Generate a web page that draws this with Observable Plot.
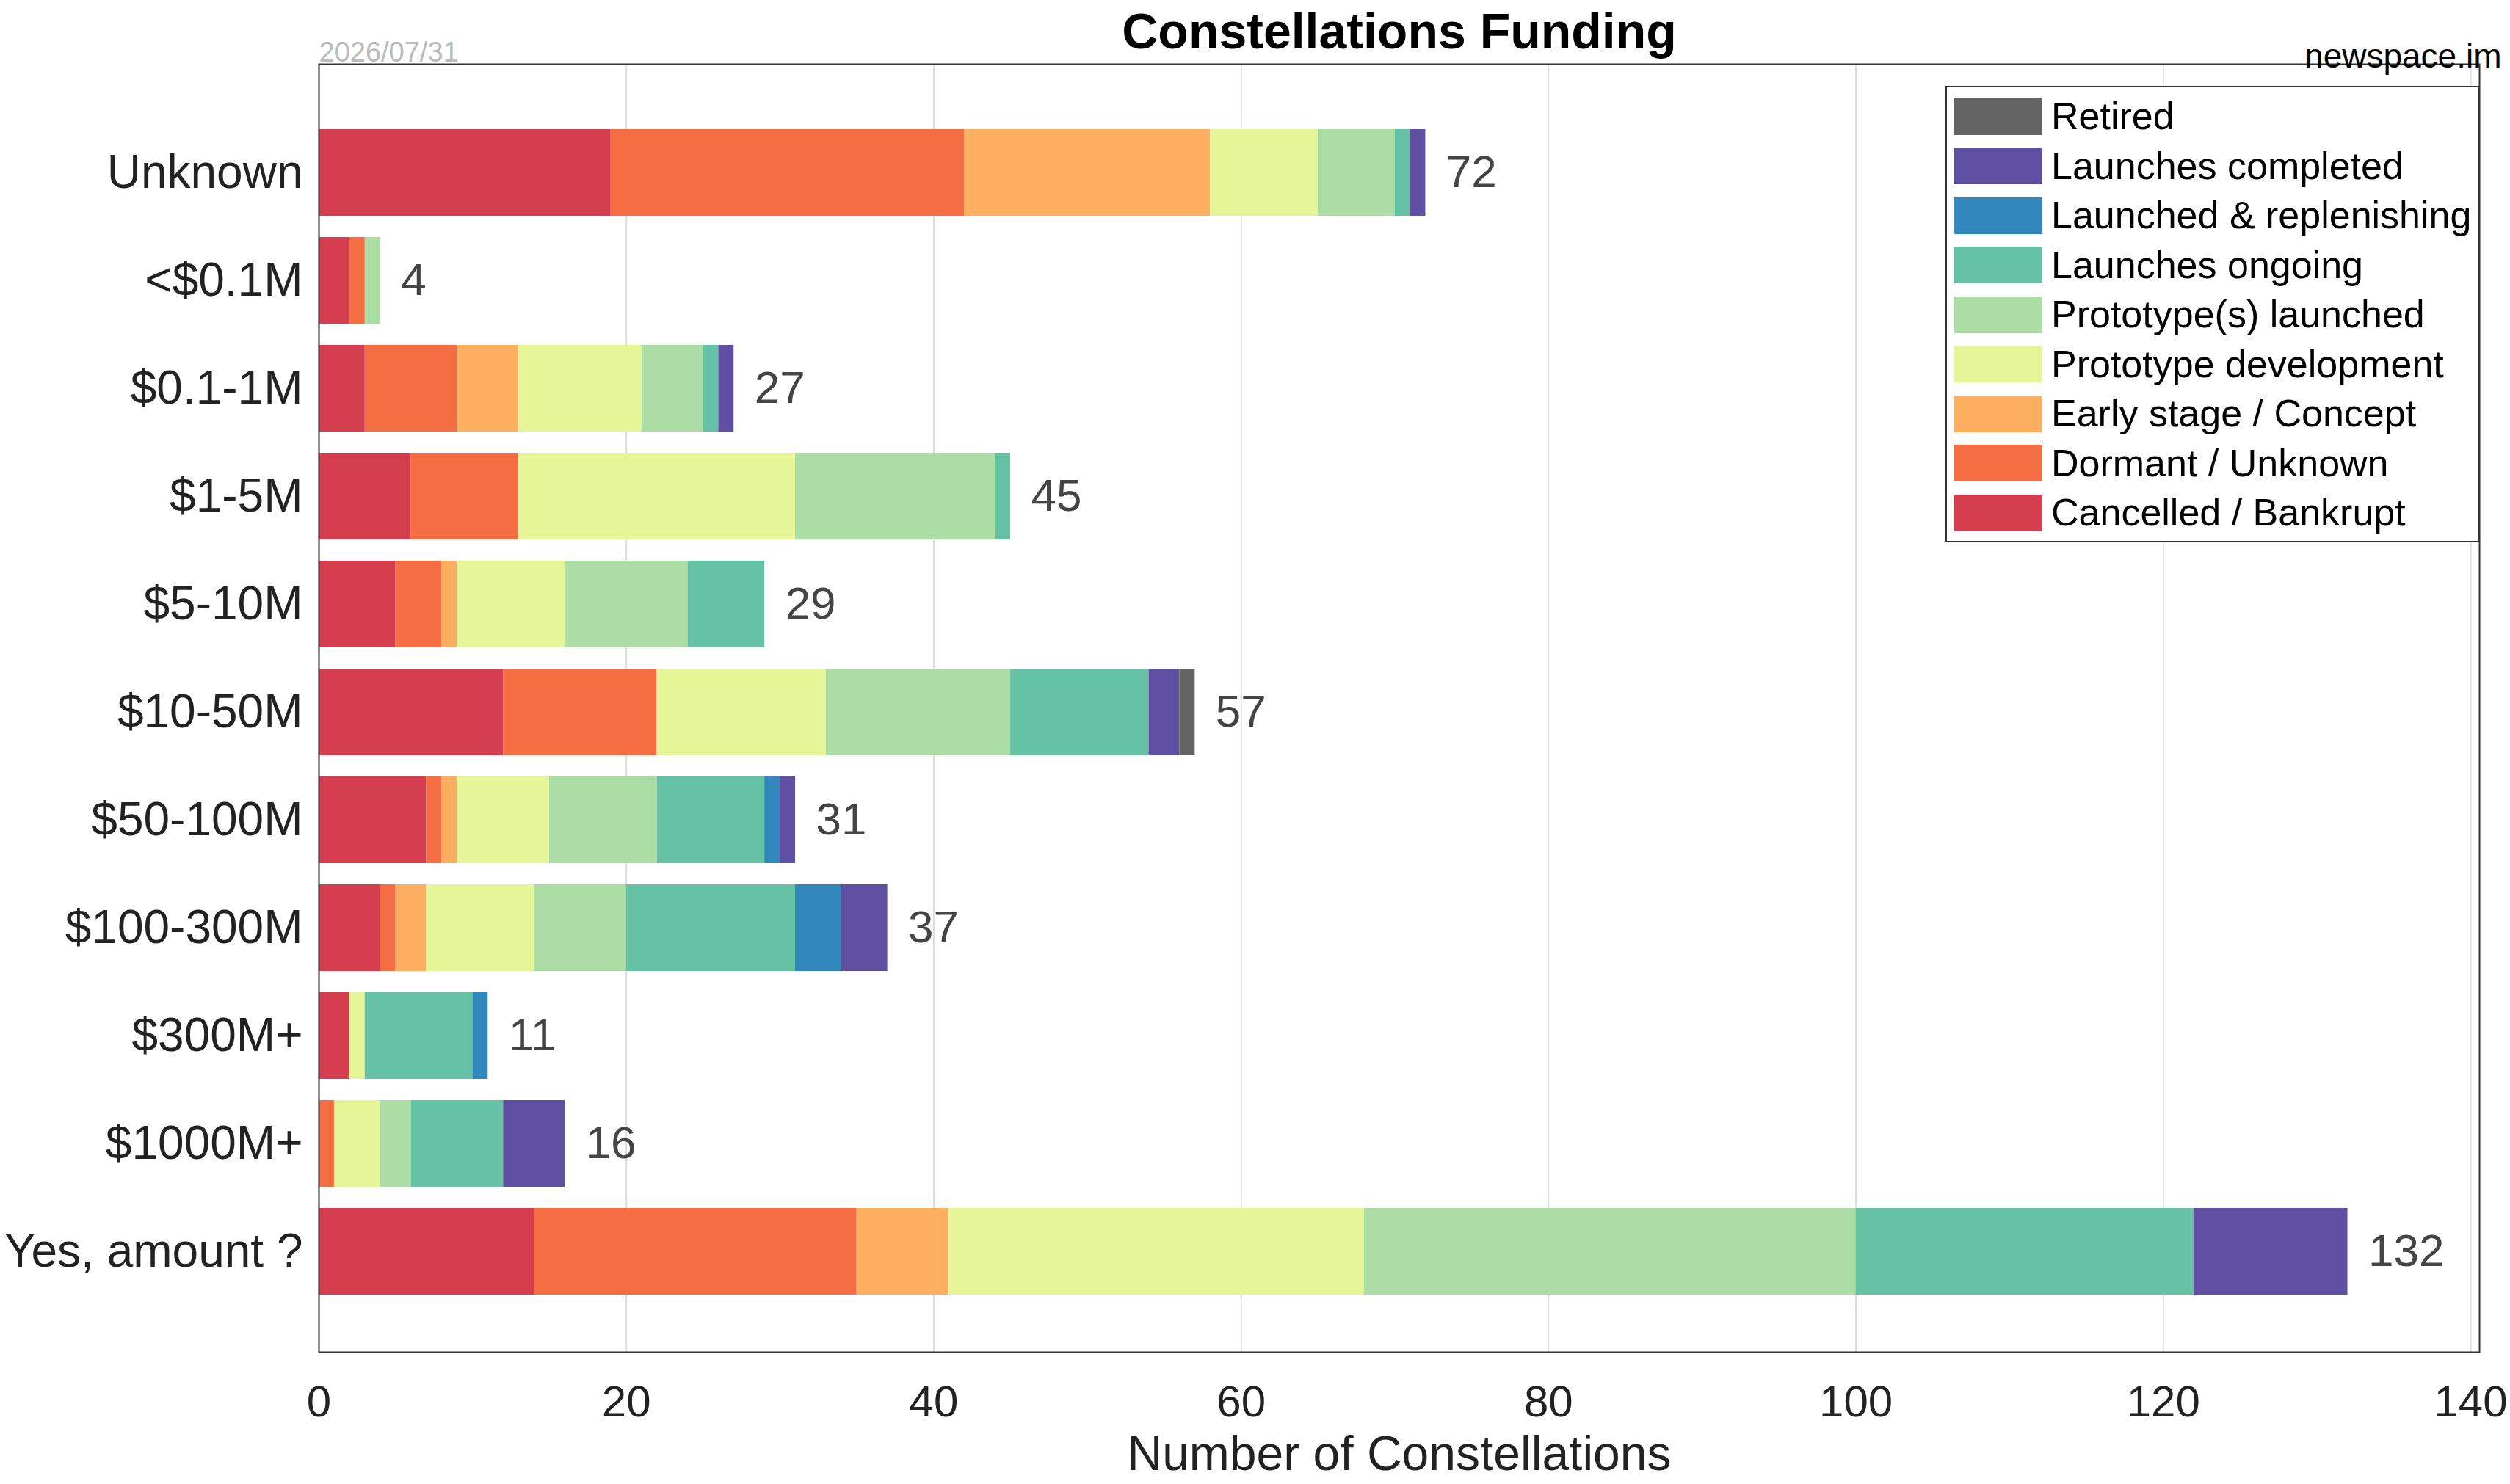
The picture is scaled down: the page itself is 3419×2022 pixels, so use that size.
<!DOCTYPE html>
<html><head><meta charset="utf-8">
<script src="https://cdn.jsdelivr.net/npm/d3@7"></script>
<script src="https://cdn.jsdelivr.net/npm/@observablehq/plot@0.6"></script>
<style>
body{margin:0;background:#fff;font-family:"Liberation Sans",Arial,sans-serif;}
#wrap{position:relative;width:3419px;height:2022px;}
#legend{position:absolute;left:2650px;top:117px;border:2px solid #333;background:#fff;padding:6px 10px 4px 10px;font-size:52px;line-height:67.5px;color:#000;}
#legend div{display:flex;align-items:center;}
#legend span.sw{display:inline-block;width:120px;height:50px;margin-right:12px;}
</style></head><body>
<div id="wrap"><div id="chart"></div><div id="legend"></div></div>
<script>
const categories = ["Unknown","<$0.1M","$0.1-1M","$1-5M","$5-10M","$10-50M","$50-100M","$100-300M","$300M+","$1000M+","Yes, amount ?"];
const statuses = ["Cancelled / Bankrupt","Dormant / Unknown","Early stage / Concept","Prototype development","Prototype(s) launched","Launches ongoing","Launched & replenishing","Launches completed","Retired"];
const colors = ["#d53e4f","#f46d43","#fdae61","#e6f598","#abdda4","#66c2a5","#3288bd","#5e4fa2","#636363"];
// values per category, in status order
const counts = [
  [19,23,16,7,5,1,0,1,0],
  [2,1,0,0,1,0,0,0,0],
  [3,6,4,8,4,1,0,1,0],
  [6,7,0,18,13,1,0,0,0],
  [5,3,1,7,8,5,0,0,0],
  [12,10,0,11,12,9,0,2,1],
  [7,1,1,6,7,7,1,1,0],
  [4,1,2,7,6,11,3,3,0],
  [2,0,0,1,0,7,1,0,0],
  [0,1,0,3,2,6,0,4,0],
  [14,21,6,27,32,22,0,10,0]
];
const xTicks = [0,20,40,60,80,100,120,140];

const rows = [];
categories.forEach((c,i)=>statuses.forEach((s,j)=>{ if(counts[i][j]>0) rows.push({cat:c,status:s,n:counts[i][j]}); }));
const totals = categories.map((c,i)=>({cat:c,total:d3.sum(counts[i])}));

const chart = Plot.plot({
  width:3419, height:2022,
  marginLeft:434, marginRight:42, marginTop:87, marginBottom:180,
  style:{fontFamily:"'Liberation Sans',Arial,sans-serif", background:"#fff"},
  x:{domain:[0,140], ticks:xTicks, label:"Number of Constellations", labelArrow:"none", labelAnchor:"center", labelOffset:160, tickSize:0, tickPadding:45, insetRight:12},
  y:{domain:categories, padding:0.2, insetTop:56, insetBottom:46, label:null, tickSize:0, tickPadding:22},
  color:{domain:statuses, range:colors},
  marks:[
    Plot.gridX(xTicks,{stroke:"#ddd", strokeOpacity:1, strokeWidth:2}),
    Plot.barX(rows, Plot.stackX({x:"n", y:"cat", fill:"status", order:statuses})),
    Plot.text(totals,{x:"total", y:"cat", text:d=>String(d.total), textAnchor:"start", dx:28, fontSize:62, fill:"#444"}),
    Plot.frame({stroke:"#333", strokeWidth:2}),
    Plot.text(["Constellations Funding"],{frameAnchor:"top", dy:-70, fontSize:68, fontWeight:"bold", fill:"#000"}),
    Plot.text(["2026/07/31"],{frameAnchor:"top-left", dy:-30, fontSize:38, fill:"#bbb", textAnchor:"start"}),
    Plot.text(["newspace.im"],{frameAnchor:"top-right", dx:30, dy:-28, fontSize:46, fill:"#000", textAnchor:"end"})
  ]
});
chart.querySelectorAll('g[aria-label="y-axis tick label"]').forEach(g=>{g.setAttribute("font-size","64");g.setAttribute("fill","#222");});
chart.querySelectorAll('g[aria-label="x-axis tick label"]').forEach(g=>{g.setAttribute("font-size","60");g.setAttribute("fill","#222");});
chart.querySelectorAll('g[aria-label="x-axis label"]').forEach(g=>{g.setAttribute("font-size","66");g.setAttribute("fill","#222");});
document.getElementById("chart").appendChild(chart);
const lg = document.getElementById("legend");
statuses.slice().reverse().forEach((s,k)=>{
  const c = colors[statuses.length-1-k];
  const d = document.createElement("div");
  d.innerHTML = `<span class="sw" style="background:${c}"></span>${s}`;
  lg.appendChild(d);
});
</script></body></html>
